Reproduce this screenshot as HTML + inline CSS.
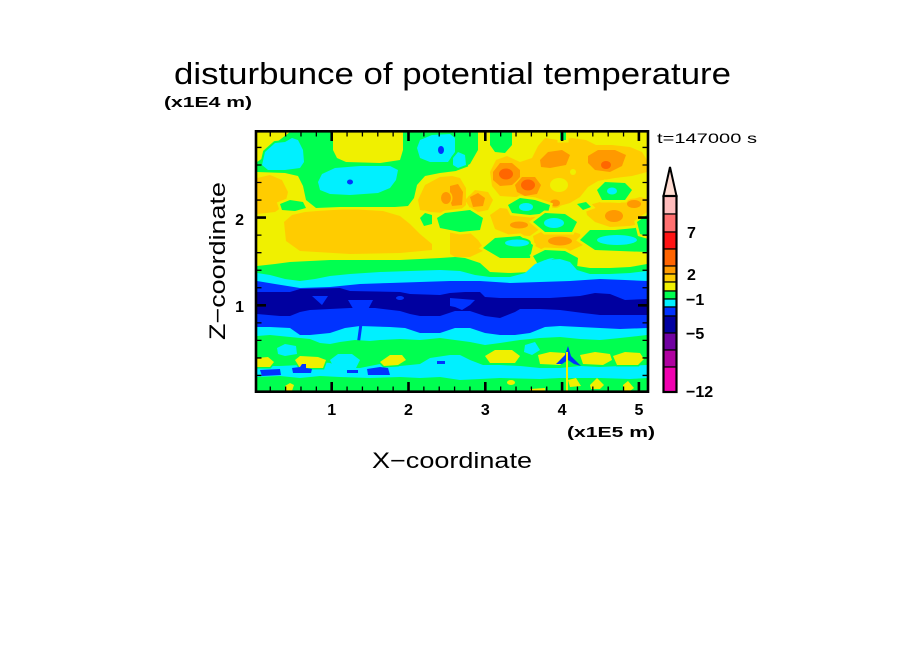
<!DOCTYPE html>
<html>
<head>
<meta charset="utf-8">
<style>
  html,body{margin:0;padding:0;background:#fff;}
  svg{display:block;}
  text{font-family:"Liberation Sans", sans-serif; fill:#000;}
</style>
</head>
<body>
<svg width="904" height="654" viewBox="0 0 904 654" xmlns="http://www.w3.org/2000/svg">
<defs>
  <clipPath id="c"><rect x="257" y="132.5" width="390" height="258"/></clipPath>
</defs>
<rect x="0" y="0" width="904" height="654" fill="#fff"/>

<!-- Title & labels -->
<text x="174" y="84" font-size="31" textLength="557" lengthAdjust="spacingAndGlyphs">disturbunce of potential temperature</text>
<text x="164" y="107" font-size="15" font-weight="bold" textLength="88" lengthAdjust="spacingAndGlyphs">(x1E4 m)</text>
<text x="567" y="437" font-size="15" font-weight="bold" textLength="88" lengthAdjust="spacingAndGlyphs">(x1E5 m)</text>
<text x="372" y="468" font-size="22" textLength="160" lengthAdjust="spacingAndGlyphs">X−coordinate</text>
<text transform="translate(225,261) rotate(-90)" x="0" y="0" font-size="22" text-anchor="middle" textLength="158" lengthAdjust="spacingAndGlyphs">Z−coordinate</text>
<text x="657" y="143" font-size="14" textLength="100" lengthAdjust="spacingAndGlyphs">t=147000 s</text>

<!-- Field -->
<g clip-path="url(#c)">
  <rect x="257" y="132" width="390" height="260" fill="#f0f000"/>

  <!-- gold regions -->
  <g fill="#ffcc00">
    <path d="M257,178 L270,175 L282,180 L288,192 L285,205 L275,212 L257,214 Z"/>
    <path d="M284,222 L292,215 L305,212 L317,211 L350,209 L383,211 L400,216 L410,224 L420,234 L432,244 L432,250 L400,253 L350,254 L300,251 L286,241 Z"/>
    <path d="M418,200 L425,185 L440,177 L452,176 L460,178 L466,188 L466,205 L458,212 L445,213 L430,212 L420,210 Z"/>
    <path d="M465,200 L475,190 L488,192 L493,200 L488,210 L473,213 Z"/>
    <path d="M490,172 L496,160 L507,156 L520,162 L532,158 L538,146 L545,138 L558,140 L572,138 L586,140 L596,145 L612,145 L630,147 L642,152 L647,160 L647,172 L632,176 L615,178 L598,181 L588,187 L580,197 L570,203 L556,207 L543,201 L530,197 L515,197 L500,196 L492,186 Z"/>
    <path d="M490,215 L500,208 L520,210 L535,217 L541,228 L530,236 L510,235 L495,229 Z"/>
    <path d="M533,236 L545,230 L565,229 L580,234 L583,245 L570,251 L545,251 L535,246 Z"/>
    <path d="M585,206 L600,202 L620,203 L640,197 L647,199 L647,222 L630,226 L610,227 L595,222 L587,215 Z"/>
    <path d="M450,232 L468,231 L478,240 L485,250 L470,257 L455,257 L450,254 Z"/>
  </g>
  <!-- yellow holes in gold -->
  <g fill="#f0f000">
    <ellipse cx="559" cy="185" rx="9" ry="7"/>
    <ellipse cx="573" cy="172" rx="3" ry="3"/>
  </g>
  <!-- orange -->
  <g fill="#ff9900" stroke="#ffcc00" stroke-width="3" paint-order="stroke">
    <path d="M493,172 L500,163 L512,163 L520,170 L520,178 L512,185 L500,186 L493,180 Z"/>
    <path d="M515,185 L522,177 L535,177 L541,185 L537,194 L525,196 L517,192 Z"/>
    <path d="M540,160 L548,152 L562,150 L570,155 L566,165 L550,168 L541,167 Z"/>
    <path d="M588,156 L598,150 L615,150 L626,155 L622,166 L610,172 L595,170 L588,163 Z"/>
    <path d="M450,186 L458,184 L463,192 L462,205 L452,206 L450,200 Z"/>
    <path d="M470,197 L478,193 L485,198 L483,206 L473,207 Z"/>
    <ellipse cx="446" cy="198" rx="5" ry="6"/>
    <ellipse cx="519" cy="225" rx="9" ry="3.5"/>
    <ellipse cx="560" cy="241" rx="12" ry="4.5"/>
    <ellipse cx="614" cy="216" rx="9" ry="6"/>
    <ellipse cx="634" cy="204" rx="7" ry="4"/>
    <ellipse cx="555" cy="203" rx="5" ry="3.5"/>
  </g>
  <!-- dark orange -->
  <g fill="#ff6600">
    <ellipse cx="506" cy="174" rx="7" ry="5.5"/>
    <ellipse cx="528" cy="185" rx="7" ry="5.5"/>
    <ellipse cx="606" cy="165" rx="5" ry="4"/>
  </g>

  <!-- green top patches -->
  <g fill="#00ff50" stroke="#f0f000" stroke-width="5" paint-order="stroke">
    <path d="M290,132 L333,132 L333,150 L337,158 L346,162 L380,163 L400,160 L403,150 L403,132 L478,132 L478,150 L470,164 L456,171 L440,173 L425,176 L417,185 L414,198 L408,206 L395,207 L370,207 L340,207 L316,208 L306,200 L303,186 L298,176 L285,173 L257,172 L257,162 L263,158 L273,145 Z"/>
    <path d="M280,204 L290,200 L303,202 L306,208 L295,211 L282,210 Z"/>
    <path d="M490,132 L512,132 L512,145 L505,153 L495,152 L490,145 Z"/>
    <path d="M508,205 L520,198 L535,200 L550,205 L548,213 L530,215 L512,213 Z"/>
    <path d="M533,222 L545,213 L565,214 L577,222 L572,232 L545,232 Z"/>
    <path d="M577,204 L586,202 L591,207 L583,210 Z"/>
    <path d="M597,190 L605,182 L625,183 L632,190 L625,200 L602,200 Z"/>
    <path d="M437,218 L445,213 L470,210 L483,218 L480,230 L460,232 L440,228 Z"/>
    <path d="M420,218 L425,213 L432,215 L432,224 L424,226 Z"/>
    <path d="M580,240 L590,230 L615,230 L635,228 L647,225 L647,252 L620,251 L595,250 Z"/>
    <path d="M637,222 L647,215 L647,236 L640,234 Z"/>
    <path d="M483,248 L495,238 L520,236 L533,245 L530,258 L500,258 Z"/>
    <path d="M533,256 L545,250 L565,251 L578,258 L577,268 L540,268 Z"/>
    <path d="M560,132 L566,132 L566,140 L560,140 Z"/>
  </g>
  <!-- cyan top blobs -->
  <g fill="#00f0ff" stroke="#00ff50" stroke-width="4" paint-order="stroke">
    <path d="M262,165 L265,152 L275,143 L285,142 L292,138 L298,140 L303,150 L304,162 L300,168 L285,170 L268,170 Z"/>
    <path d="M318,182 L322,174 L335,168 L360,166 L390,166 L398,170 L396,180 L390,188 L378,193 L350,195 L330,194 L320,190 Z"/>
    <path d="M417,148 L420,140 L432,135 L450,134 L455,138 L455,152 L448,162 L430,162 L420,158 Z"/>
    <path d="M453,158 L458,152 L465,155 L466,165 L458,168 L453,165 Z"/>
    <ellipse cx="526" cy="207" rx="7" ry="4"/>
    <ellipse cx="554" cy="223" rx="10" ry="5"/>
    <ellipse cx="612" cy="191" rx="5" ry="3.5"/>
    <ellipse cx="617" cy="240" rx="20" ry="5"/>
    <ellipse cx="517" cy="243" rx="12" ry="3.5"/>
    <ellipse cx="556" cy="262" rx="12" ry="4"/>
  </g>
  <g fill="#0033ff">
    <ellipse cx="350" cy="182" rx="3" ry="2.5"/>
    <ellipse cx="441" cy="150" rx="3" ry="4"/>
  </g>

  <!-- lower bands -->
  <path fill="#00ff50" d="M257,266 L275,264 L290,262 L310,261 L330,260 L350,260 L380,260 L400,260 L420,259 L440,258 L455,257 L465,258 L480,263 L490,272 L510,273 L530,272 L537,266 L545,262 L555,258 L570,258 L577,266 L590,268 L610,268 L630,267 L647,264 L647,391 L257,391 Z"/>
  <path fill="#00f0ff" d="M257,273 L270,275 L285,279 L300,281 L315,279 L330,276 L350,274 L380,272 L410,271 L440,270 L460,271 L475,275 L490,277 L510,277 L525,273 L535,264 L545,260 L560,259 L570,262 L577,270 L590,274 L610,274 L630,273 L647,271 L647,391 L257,391 Z"/>
  <path fill="#0033ff" d="M257,281 L275,284 L300,288 L330,287 L360,284 L390,283 L420,282 L450,281 L480,281 L510,283 L540,282 L570,281 L600,279 L625,280 L647,281 L647,328 L620,329 L600,328 L580,327 L560,326 L545,327 L530,333 L515,335 L500,335 L485,333 L470,328 L455,328 L440,333 L420,333 L405,328 L390,327 L360,326 L345,328 L330,333 L310,335 L300,335 L290,328 L270,327 L257,327 Z"/>
  <path fill="#0000a0" d="M257,292 L290,292 L300,289 L340,288 L350,291 L400,292 L410,294 L440,295 L450,293 L465,292 L480,292 L485,297 L500,298 L550,298 L580,296 L595,293 L610,294 L625,300 L647,299 L647,315 L620,315 L600,315 L583,313 L560,310 L540,309 L520,309 L515,312 L500,318 L485,316 L470,311 L455,311 L440,316 L420,316 L410,314 L400,311 L375,308 L350,308 L330,309 L310,310 L300,312 L290,316 L280,316 L257,314 Z"/>
  <g fill="#0033ff">
    <path d="M312,296 L328,296 L322,305 Z"/>
    <path d="M348,300 L373,300 L362,321 L355,312 Z"/>
    <path d="M450,298 L475,300 L470,305 L462,310 L455,307 L450,306 Z"/>
    <ellipse cx="400" cy="298" rx="4" ry="2"/>
    <path d="M360,320 L363,320 L360,342 L357,342 Z"/>
  </g>

  <!-- lower green band -->
  <path fill="#00ff50" d="M257,336 L270,335 L290,337 L310,339 L320,343 L330,344 L340,342 L355,340 L370,341 L380,340 L400,339 L420,340 L440,338 L455,340 L470,342 L485,345 L500,343 L520,340 L540,338 L560,337 L580,339 L600,340 L620,338 L647,335 L647,365 L620,366 L600,367 L580,366 L560,368 L540,368 L520,366 L500,365 L483,365 L470,360 L460,355 L450,355 L430,358 L420,364 L400,366 L380,364 L360,368 L345,368 L330,363 L320,362 L300,365 L280,366 L257,366 Z"/>
  <g fill="#00f0ff">
    <path d="M330,360 L338,354 L352,354 L360,360 L356,368 L334,368 Z"/>
    <path d="M277,348 L285,344 L296,346 L297,354 L285,356 L278,354 Z"/>
    <path d="M525,345 L535,342 L540,350 L532,355 L524,352 Z"/>
  </g>
  <!-- yellow blobs lower -->
  <g fill="#f0f000" stroke="#00ff50" stroke-width="3" paint-order="stroke">
    <path d="M257,358 L268,357 L274,362 L270,367 L257,367 Z"/>
    <path d="M295,360 L300,356 L318,357 L326,360 L323,368 L300,368 Z"/>
    <path d="M380,362 L390,355 L402,355 L406,360 L398,365 L384,366 Z"/>
    <path d="M485,356 L495,350 L512,350 L520,356 L515,363 L490,363 Z"/>
    <path d="M538,355 L550,352 L565,353 L567,360 L560,365 L540,364 Z"/>
    <path d="M580,355 L595,352 L610,354 L612,360 L603,365 L583,364 Z"/>
    <path d="M613,356 L625,352 L640,353 L644,359 L638,365 L617,365 Z"/>
  </g>
  <!-- blue patches in lower cyan -->
  <g fill="#0033ff">
    <path d="M260,370 L280,369 L281,375 L262,376 Z"/>
    <path d="M292,368 L300,367 L302,364 L306,364 L306,368 L312,369 L311,373 L293,373 Z"/>
    <path d="M347,370 L358,370 L358,373 L347,373 Z"/>
    <path d="M367,369 L380,367 L388,368 L390,375 L368,375 Z"/>
    <path d="M437,361 L445,361 L445,364 L437,364 Z"/>
    <path d="M556,364 L562,358 L565,355 L568,346 L571,356 L577,362 L581,366 L574,364 L568,360 L562,364 Z"/>
  </g>
  <!-- bottom green -->
  <path fill="#00ff50" d="M257,377 L280,376 L300,378 L320,376 L340,377 L370,378 L400,377 L420,378 L440,377 L460,380 L480,379 L500,378 L540,379 L560,378 L600,378 L630,379 L647,378 L647,391 L257,391 Z"/>
  <g fill="#f0f000">
    <path d="M285,386 L290,383 L294,385 L292,391 L286,391 Z"/>
    <ellipse cx="511" cy="382.5" rx="4" ry="2.5"/>
    <path d="M568,380 L576,378 L581,386 L570,387 Z"/>
    <path d="M590,385 L597,378 L604,385 L600,389 L591,389 Z"/>
    <path d="M623,385 L628,381 L634,388 L630,391 L623,391 Z"/>
    <path d="M530,389 L545,388 L545,391 L530,391 Z"/>
    <rect x="566" y="352" width="2" height="39"/>
  </g>
</g>

<!-- box -->
<rect x="256" y="131.3" width="392" height="260.4" fill="none" stroke="#000" stroke-width="2.6"/>

<!-- minor ticks -->
<path fill="none" stroke="#000" stroke-width="1.3" d="
M270.26,391v-4.5 M285.62,391v-4.5 M300.98,391v-4.5 M316.34,391v-4.5 M347.06,391v-4.5 M362.42,391v-4.5 M377.78,391v-4.5 M393.14,391v-4.5 M423.86,391v-4.5 M439.22,391v-4.5 M454.58,391v-4.5 M469.94,391v-4.5 M500.66,391v-4.5 M516.02,391v-4.5 M531.38,391v-4.5 M546.74,391v-4.5 M577.46,391v-4.5 M592.82,391v-4.5 M608.18,391v-4.5 M623.54,391v-4.5
M270.26,132v4.5 M285.62,132v4.5 M300.98,132v4.5 M316.34,132v4.5 M347.06,132v4.5 M362.42,132v4.5 M377.78,132v4.5 M393.14,132v4.5 M423.86,132v4.5 M439.22,132v4.5 M454.58,132v4.5 M469.94,132v4.5 M500.66,132v4.5 M516.02,132v4.5 M531.38,132v4.5 M546.74,132v4.5 M577.46,132v4.5 M592.82,132v4.5 M608.18,132v4.5 M623.54,132v4.5
M257,375.46h4.5 M257,357.92h4.5 M257,340.38h4.5 M257,322.84h4.5 M257,287.76h4.5 M257,270.22h4.5 M257,252.68h4.5 M257,235.14h4.5 M257,200.06h4.5 M257,182.52h4.5 M257,164.98h4.5 M257,147.44h4.5
M647,375.46h-4.5 M647,357.92h-4.5 M647,340.38h-4.5 M647,322.84h-4.5 M647,287.76h-4.5 M647,270.22h-4.5 M647,252.68h-4.5 M647,235.14h-4.5 M647,200.06h-4.5 M647,182.52h-4.5 M647,164.98h-4.5 M647,147.44h-4.5
"/>
<!-- major ticks -->
<path fill="none" stroke="#000" stroke-width="2.6" d="
M331.7,391v-9 M408.5,391v-9 M485.3,391v-9 M562.1,391v-9 M638.9,391v-9
M331.7,132v9 M408.5,132v9 M485.3,132v9 M562.1,132v9 M638.9,132v9
M257,305.3h9 M257,217.6h9
M647,305.3h-9 M647,217.6h-9
"/>

<!-- tick labels -->
<g font-size="16" font-weight="bold" text-anchor="middle">
  <text x="331.7" y="415">1</text>
  <text x="408.5" y="415">2</text>
  <text x="485.3" y="415">3</text>
  <text x="562.1" y="415">4</text>
  <text x="638.9" y="415">5</text>
</g>
<g font-size="16" font-weight="bold" text-anchor="end">
  <text x="244" y="312">1</text>
  <text x="244" y="225">2</text>
</g>

<!-- colorbar -->
<g stroke="#000" stroke-width="1.2">
  <path d="M670,167 L663.5,196 L676.5,196 Z" fill="#ffdcd2" stroke-width="2"/>
  <rect x="663.5" y="196" width="13" height="18" fill="#ffbcbc"/>
  <rect x="663.5" y="214" width="13" height="18" fill="#ff7070"/>
  <rect x="663.5" y="232" width="13" height="17" fill="#ff1414"/>
  <rect x="663.5" y="249" width="13" height="17" fill="#ff6400"/>
  <rect x="663.5" y="266" width="13" height="8" fill="#ff9b00"/>
  <rect x="663.5" y="274" width="13" height="8" fill="#ffcd00"/>
  <rect x="663.5" y="282" width="13" height="9" fill="#f0f000"/>
  <rect x="663.5" y="291" width="13" height="8" fill="#00ff50"/>
  <rect x="663.5" y="299" width="13" height="8" fill="#00f0ff"/>
  <rect x="663.5" y="307" width="13" height="9" fill="#0033ff"/>
  <rect x="663.5" y="316" width="13" height="17" fill="#0000a0"/>
  <rect x="663.5" y="333" width="13" height="17" fill="#7000a0"/>
  <rect x="663.5" y="350" width="13" height="17" fill="#b000a0"/>
  <rect x="663.5" y="367" width="13" height="25" fill="#f000b0"/>
  <rect x="663.5" y="196" width="13" height="196" fill="none" stroke-width="2.2"/>
</g>
<g font-size="16" font-weight="bold">
  <text x="687" y="238">7</text>
  <text x="687" y="280">2</text>
  <text x="686" y="305">−1</text>
  <text x="686" y="339">−5</text>
  <text x="686" y="397">−12</text>
</g>
</svg>
</body>
</html>
